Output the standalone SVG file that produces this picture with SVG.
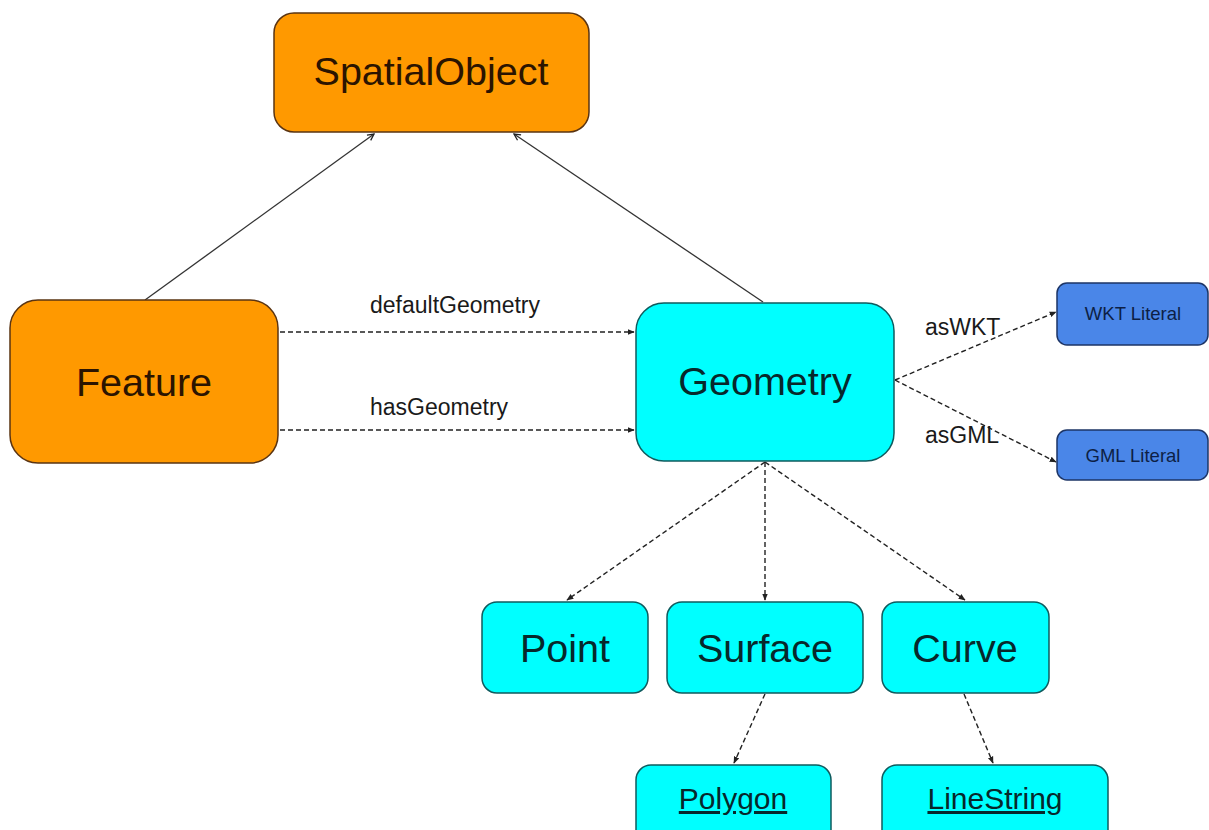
<svg xmlns="http://www.w3.org/2000/svg" width="1209" height="830" viewBox="0 0 1209 830">
<defs>
<style>
.orange{fill:#FF9900;stroke:#5a3412;stroke-width:1.5}
.cyan{fill:#00FFFF;stroke:#0f5b5e;stroke-width:1.5}
.blue{fill:#4A86E8;stroke:#1d3566;stroke-width:1.5}
.big{font-family:"Liberation Sans",Arial,sans-serif;font-size:39.5px;text-anchor:middle}
.mid{font-family:"Liberation Sans",Arial,sans-serif;font-size:30px;text-anchor:middle;text-decoration:underline}
.lit{font-family:"Liberation Sans",Arial,sans-serif;font-size:18.5px;text-anchor:middle;fill:#0d1f45}
.lbl{font-family:"Liberation Sans",Arial,sans-serif;font-size:23px;fill:#1a1a1a}
.ot{fill:#2b1400}
.ct{fill:#07282b}
.solid{fill:none;stroke:#333;stroke-width:1.3}
.dash{fill:none;stroke:#222;stroke-width:1.4;stroke-dasharray:5 3}
</style>
<marker id="arr" viewBox="0 0 10 10" refX="9" refY="5" markerWidth="8" markerHeight="8" markerUnits="userSpaceOnUse" orient="auto">
<path d="M1,1 L9,5 L1,9" fill="none" stroke="#222" stroke-width="1.6"/>
</marker>
<marker id="arrf" viewBox="0 0 10 10" refX="9" refY="5" markerWidth="7" markerHeight="7" markerUnits="userSpaceOnUse" orient="auto">
<path d="M0,1 L10,5 L0,9 z" fill="#222"/>
</marker>
</defs>
<rect width="1209" height="830" fill="#ffffff"/>
<g id="connectors">
<line class="solid" x1="145" y1="300" x2="374" y2="134" marker-end="url(#arr)"/>
<line class="solid" x1="763" y1="302" x2="514" y2="134" marker-end="url(#arr)"/>
<line class="dash" x1="280" y1="332" x2="634" y2="332" marker-end="url(#arrf)"/>
<line class="dash" x1="280" y1="430" x2="634" y2="430" marker-end="url(#arrf)"/>
<line class="dash" x1="895" y1="380" x2="1056" y2="312" marker-end="url(#arrf)"/>
<line class="dash" x1="895" y1="380" x2="1056" y2="462" marker-end="url(#arrf)"/>
<line class="dash" x1="765" y1="462" x2="567" y2="600" marker-end="url(#arrf)"/>
<line class="dash" x1="765" y1="462" x2="765" y2="600" marker-end="url(#arrf)"/>
<line class="dash" x1="765" y1="462" x2="965" y2="600" marker-end="url(#arrf)"/>
<line class="dash" x1="765" y1="694" x2="734" y2="763" marker-end="url(#arrf)"/>
<line class="dash" x1="964" y1="694" x2="993" y2="763" marker-end="url(#arrf)"/>
<text class="lbl" x="370" y="313">defaultGeometry</text>
<text class="lbl" x="370" y="415">hasGeometry</text>
<text class="lbl" x="925" y="335">asWKT</text>
<text class="lbl" x="925" y="443">asGML</text>
</g>
<g id="spatialobject">
<rect class="orange" x="274" y="13" width="315" height="119" rx="20"/>
<text class="big ot" x="431" y="85">SpatialObject</text>
</g>
<g id="feature">
<rect class="orange" x="10" y="300" width="268" height="163" rx="28"/>
<text class="big ot" x="144" y="396">Feature</text>
</g>
<g id="geometry">
<rect class="cyan" x="636" y="303" width="258" height="158" rx="28"/>
<text class="big ct" x="765" y="395">Geometry</text>
</g>
<g id="wktliteral">
<rect class="blue" x="1057" y="283" width="151" height="62" rx="10"/>
<text class="lit" x="1133" y="320">WKT Literal</text>
</g>
<g id="gmlliteral">
<rect class="blue" x="1057" y="430" width="151" height="50" rx="10"/>
<text class="lit" x="1133" y="462">GML Literal</text>
</g>
<g id="point">
<rect class="cyan" x="482" y="602" width="166" height="91" rx="15"/>
<text class="big ct" x="565" y="662">Point</text>
</g>
<g id="surface">
<rect class="cyan" x="667" y="602" width="196" height="91" rx="15"/>
<text class="big ct" x="765" y="662">Surface</text>
</g>
<g id="curve">
<rect class="cyan" x="882" y="602" width="167" height="91" rx="15"/>
<text class="big ct" x="965" y="662">Curve</text>
</g>
<g id="polygon">
<rect class="cyan" x="636" y="765" width="195" height="80" rx="15"/>
<text class="mid ct" x="733" y="809">Polygon</text>
</g>
<g id="linestring">
<rect class="cyan" x="882" y="765" width="226" height="80" rx="15"/>
<text class="mid ct" x="995" y="809">LineString</text>
</g>
</svg>
